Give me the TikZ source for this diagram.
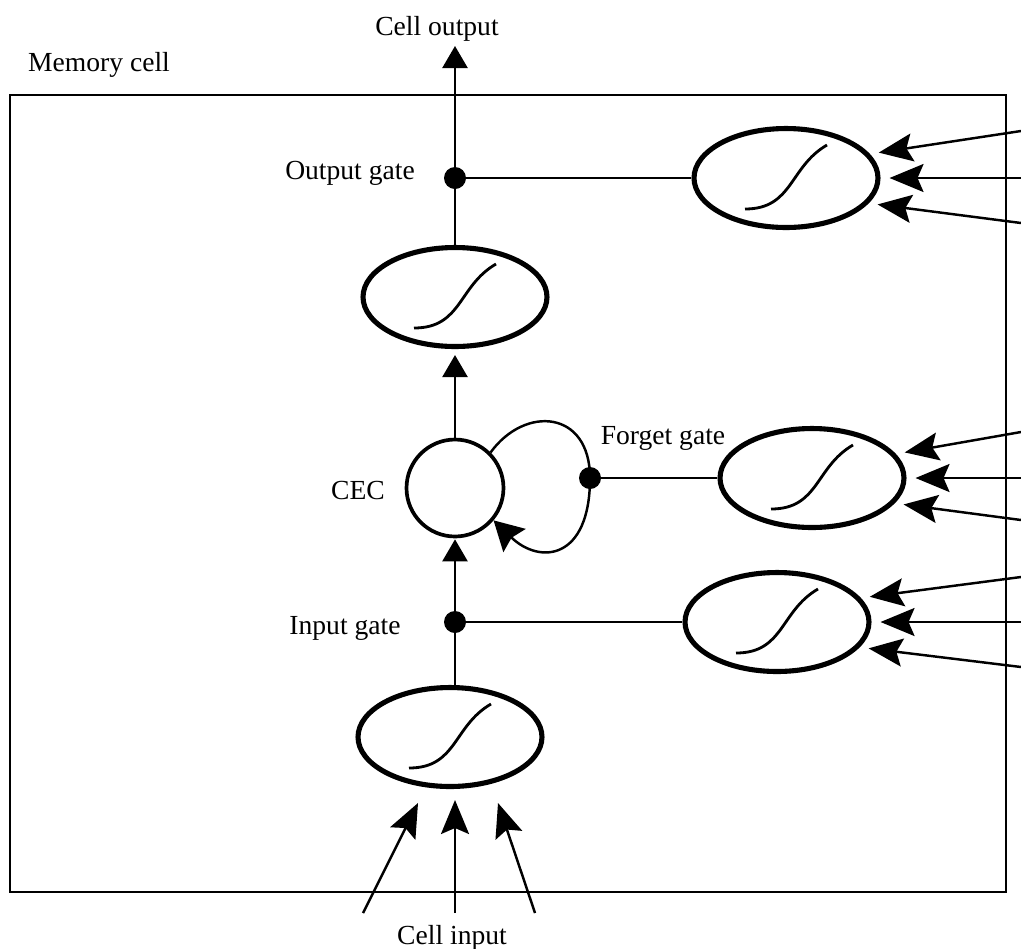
\documentclass[tikz,border=0pt]{standalone}
\usepackage{fontspec}
\setmainfont{Liberation Serif}
\usetikzlibrary{arrows.meta,shapes.geometric,calc}
\begin{document}
\begin{tikzpicture}[x=0.02cm,y=-0.02cm,
  lbl/.style={font=\fontsize{15.7}{18}\selectfont, inner sep=0, anchor=base},
  conn/.style={line width=1.4pt},
  varr/.style={conn, -{Triangle[length=0.44cm,width=0.5cm]}},
  arr/.style={conn, -{Stealth[length=0.68cm,width=0.56cm,inset=0.12cm]}},
  larr/.style={conn, -{Stealth[length=0.58cm,width=0.64cm,inset=0.08cm]}},
  dotn/.style={circle, fill, inner sep=0, minimum size=0.44cm},
  squash/.style={ellipse, draw, line width=2.9pt, minimum width=3.68cm, minimum height=1.98cm, inner sep=0,
    path picture={\draw[line width=1.6pt]
      ($(path picture bounding box.center)+(-41,31)$) .. controls +(48,0) and +(-38,22) ..
      ($(path picture bounding box.center)+(41,-33)$);}},
]
\useasboundingbox (0,0) rectangle (1021,948);
% frame
\draw[line width=1.2pt] (10,95) rectangle (1006,892);
% nodes
\node[squash] (og) at (786,178) {};
\node[squash] (os) at (455,297) {};
\node[circle, draw, line width=2.1pt, minimum size=1.94cm, inner sep=0] (cec) at (455,488) {};
\node[squash] (fg) at (812,478) {};
\node[squash] (ig) at (777,622) {};
\node[squash] (is) at (450,737) {};
\node[dotn] (od) at (455,178) {};
\node[dotn] (fd) at (590,478) {};
\node[dotn] (id) at (455,622) {};
% labels
\node[lbl] (lmem) at (99,71) {Memory cell};
\node[lbl] (lout) at (437,35) {Cell output};
\node[lbl] (log) at (350,179) {Output gate};
\node[lbl] (lcec) at (358,499) {CEC};
\node[lbl] (lfg) at (663,444) {Forget gate};
\node[lbl] (lig) at (345,634) {Input gate};
\node[lbl] (lin) at (452,944) {Cell input};
% coordinates
\coordinate (cout) at (455,46);
\coordinate (o1) at (1021,131);
\coordinate (o2) at (1021,178);
\coordinate (o3) at (1021,223);
\coordinate (f1) at (1021,432);
\coordinate (f2) at (1021,478);
\coordinate (f3) at (1021,520);
\coordinate (i1) at (1021,577);
\coordinate (i2) at (1021,622);
\coordinate (i3) at (1021,667);
\coordinate (b1) at (363,913);
\coordinate (b2) at (455,913);
\coordinate (b3) at (535,913);
\coordinate (t1) at (418,803);
\coordinate (t2) at (455,800);
\coordinate (t3) at (498,803);
% vertical chain
\draw[varr] (os.north) -- (cout);
\draw[varr, shorten >=0.12cm] (cec.north) -- (os.south);
\draw[conn] (id |- is.north) -- (id);
\draw[varr, shorten >=0.02cm] (id) -- (cec.south);
% gate lines
\draw[conn] (od) -- (og.west);
\draw[conn] (fd) -- (fg.west);
\draw[conn] (id) -- (ig.west);
% self loop
\draw[larr] (cec.45) .. controls (525,405) and (590,410) .. (fd.center)
  .. controls (590,560) and (540,565) .. (cec.-40);
% gate inputs
\draw[arr, shorten >=0.18cm] (o1) -- (og.16);
\draw[arr, shorten >=0.18cm] (o2) -- (og.east);
\draw[arr, shorten >=0.18cm] (o3) -- (og.-17);
\draw[arr, shorten >=0.18cm] (f1) -- (fg.16);
\draw[arr, shorten >=0.18cm] (f2) -- (fg.east);
\draw[arr, shorten >=0.18cm] (f3) -- (fg.-17);
\draw[arr, shorten >=0.18cm] (i1) -- (ig.16);
\draw[arr, shorten >=0.18cm] (i2) -- (ig.east);
\draw[arr, shorten >=0.18cm] (i3) -- (ig.-17);
% cell input
\draw[arr] (b1) -- (t1);
\draw[arr] (b2) -- (t2);
\draw[arr] (b3) -- (t3);
\end{tikzpicture}
\end{document}
